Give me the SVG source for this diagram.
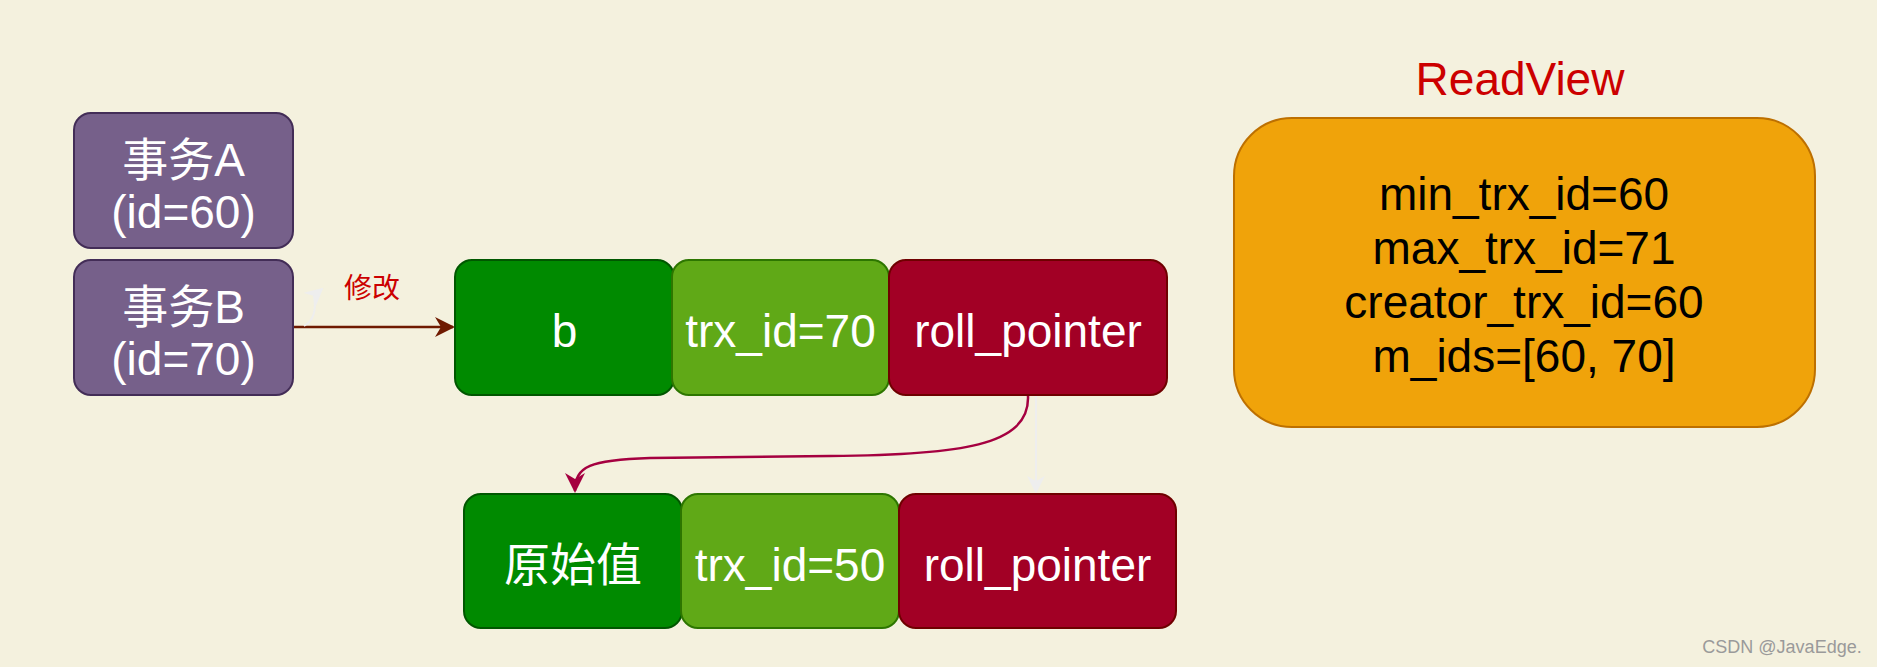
<svg xmlns="http://www.w3.org/2000/svg" width="1877" height="667" viewBox="0 0 1877 667">
<defs>
<style>
text{font-family:"Liberation Sans","Noto Sans CJK SC",sans-serif;text-anchor:middle}
.w{fill:#ffffff;font-size:46px}
.k{fill:#000000;font-size:46px}
.purple{fill:#76608A;stroke:#432D57;stroke-width:2}
.green{fill:#008A00;stroke:#005700;stroke-width:2}
.lgreen{fill:#60A917;stroke:#2D7600;stroke-width:2}
.red{fill:#A20025;stroke:#6F0000;stroke-width:2}
</style>
<marker id="mBrown" viewBox="0 0 10 10" refX="9" refY="5" markerWidth="20" markerHeight="20" markerUnits="userSpaceOnUse" orient="auto">
<path d="M0,0 L10,5 L0,10 L3,5 Z" fill="#6F1A00"/>
</marker>
<marker id="mWine" viewBox="0 0 10 10" refX="9" refY="5" markerWidth="20" markerHeight="20" markerUnits="userSpaceOnUse" orient="auto">
<path d="M0,0 L10,5 L0,10 L3,5 Z" fill="#A50040"/>
</marker>
<marker id="mLight" viewBox="0 0 10 10" refX="9" refY="5" markerWidth="18" markerHeight="18" markerUnits="userSpaceOnUse" orient="auto">
<path d="M0,0 L10,5 L0,10 L3,5 Z" fill="#EEEEEE"/>
</marker>
</defs>
<rect width="1877" height="667" fill="#F4F1DE"/>

<g id="connectors" fill="none">
<path d="M293,327 L453,327" stroke="#6F1A00" stroke-width="2.5" marker-end="url(#mBrown)"/>
<path d="M304,326 Q318,318 314,296 L322,289" stroke="#EEEEEE" stroke-width="2" marker-end="url(#mLight)"/>
<path d="M1028,396 C1030,446 960,455 830,456 L650,458 C590,460 575,466 575,491" stroke="#A50040" stroke-width="2.5" marker-end="url(#mWine)"/>
<path d="M1036,396 L1036,492" stroke="#EEEEEE" stroke-width="2" marker-end="url(#mLight)"/>
</g>

<g id="label-modify">
<text x="372" y="298" style="fill:#CC0000;font-size:28px">修改</text>
</g>

<g id="txA">
<rect class="purple" x="74" y="113" width="219" height="135" rx="17"/>
<text class="w" x="183.5" y="176">事务A</text>
<text class="w" x="183.5" y="228">(id=60)</text>
</g>
<g id="txB">
<rect class="purple" x="74" y="260" width="219" height="135" rx="17"/>
<text class="w" x="183.5" y="323">事务B</text>
<text class="w" x="183.5" y="375">(id=70)</text>
</g>

<g id="row1-b">
<rect class="green" x="455" y="260" width="219" height="135" rx="17"/>
<text class="w" x="564.5" y="347">b</text>
</g>
<g id="row1-trx">
<rect class="lgreen" x="672" y="260" width="217" height="135" rx="17"/>
<text class="w" x="780.5" y="347">trx_id=70</text>
</g>
<g id="row1-roll">
<rect class="red" x="889" y="260" width="278" height="135" rx="17"/>
<text class="w" x="1028" y="347">roll_pointer</text>
</g>

<g id="row2-orig">
<rect class="green" x="464" y="494" width="218" height="134" rx="17"/>
<text class="w" x="573" y="581">原始值</text>
</g>
<g id="row2-trx">
<rect class="lgreen" x="681" y="494" width="218" height="134" rx="17"/>
<text class="w" x="790" y="581">trx_id=50</text>
</g>
<g id="row2-roll">
<rect class="red" x="899" y="494" width="277" height="134" rx="17"/>
<text class="w" x="1037.5" y="581">roll_pointer</text>
</g>

<g id="readview-title">
<text x="1520" y="95" style="fill:#CC0000;font-size:46px">ReadView</text>
</g>
<g id="readview">
<rect x="1234" y="118" width="581" height="309" rx="58" fill="#F0A30A" stroke="#BD7000" stroke-width="2"/>
<text class="k" x="1524" y="210">min_trx_id=60</text>
<text class="k" x="1524" y="264">max_trx_id=71</text>
<text class="k" x="1524" y="318">creator_trx_id=60</text>
<text class="k" x="1524" y="372">m_ids=[60, 70]</text>
</g>

<text x="1782" y="653" style="fill:#9A9A9A;font-size:18px">CSDN @JavaEdge.</text>
</svg>
